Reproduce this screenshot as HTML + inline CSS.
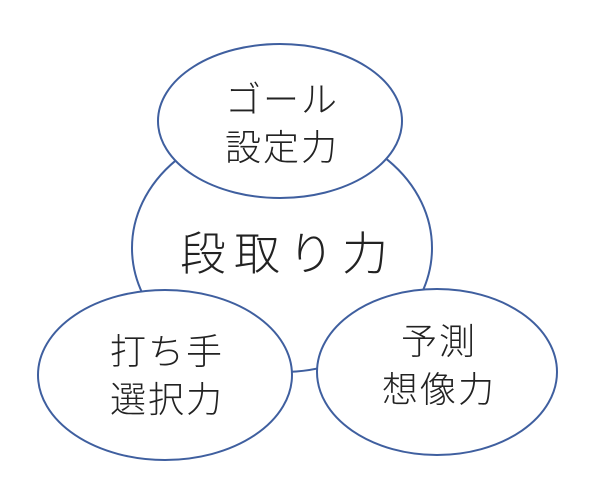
<!DOCTYPE html>
<html><head><meta charset="utf-8"><style>
html,body{margin:0;padding:0;background:#fff;}
svg text{font-family:"Liberation Sans","Noto Sans CJK JP",sans-serif;fill:#222;text-anchor:middle;font-weight:300;}
</style></head><body>
<svg width="600" height="478" viewBox="0 0 600 478" xmlns="http://www.w3.org/2000/svg">
<g fill="#fff" stroke="#3f5f9f" stroke-width="2">
<ellipse cx="282" cy="248" rx="150" ry="124"/>
<ellipse cx="280" cy="121" rx="122" ry="77"/>
<ellipse cx="165" cy="375" rx="127" ry="85"/>
<ellipse cx="437" cy="372" rx="120" ry="83"/>
</g>
<text x="288" y="270" font-size="46" letter-spacing="8">段取り力</text>
<text x="282" y="112" font-size="36" letter-spacing="2">ゴール</text>
<text x="282" y="160" font-size="36" letter-spacing="2">設定力</text>
<text x="167" y="364" font-size="36" letter-spacing="2">打ち手</text>
<text x="167" y="412" font-size="36" letter-spacing="2">選択力</text>
<text x="439" y="354" font-size="36" letter-spacing="2">予測</text>
<text x="439" y="402" font-size="36" letter-spacing="2">想像力</text>
</svg>
</body></html>
